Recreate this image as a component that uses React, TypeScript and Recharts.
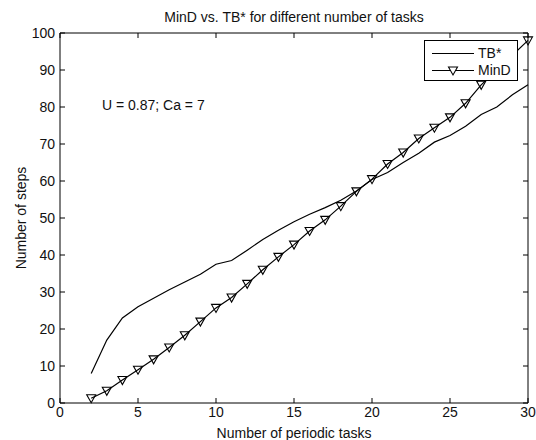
import React from 'react';
import { LineChart, Line, XAxis, YAxis, Legend, ReferenceDot } from 'recharts';

const tasks = [2, 3, 4, 5, 6, 7, 8, 9, 10, 11, 12, 13, 14, 15, 16, 17, 18, 19, 20, 21, 22, 23, 24, 25, 26, 27, 28, 29, 30];
const tbStar = [8, 17, 23, 26, 28.3, 30.6, 32.7, 34.8, 37.5, 38.5, 41.3, 44.2, 46.7, 49, 51, 52.8, 54.8, 57.3, 60.4, 62.3, 65, 67.5, 70.5, 72.3, 74.8, 78, 80, 83.3, 86];
const minD = [1.3, 3.3, 6.2, 9, 11.8, 15, 18.3, 22, 25.7, 28.5, 32.2, 36, 39.5, 42.8, 46.5, 49.5, 53.2, 57.2, 60.5, 64.6, 67.7, 71.5, 74.4, 77.2, 81, 86, 90, 94, 98];
const xTicks = [0, 5, 10, 15, 20, 25, 30];
const yTicks = [0, 10, 20, 30, 40, 50, 60, 70, 80, 90, 100];

const seriesNames = { tb: 'TB*', mind: 'MinD' };
const titleText = 'MinD vs. TB* for different number of tasks';
const xLabel = 'Number of periodic tasks';
const yLabel = 'Number of steps';
const noteText = 'U = 0.87; Ca = 7';

const data = tasks.map((t, i) => ({ x: t, tb: tbStar[i], mind: minD[i] }));

const FONT = '"Liberation Sans", Arial, Helvetica, sans-serif';
const TICK = 5;

const BottomTick = (p: any) => (
  <g>
    <line x1={p.x} y1={p.y} x2={p.x} y2={p.y - TICK} stroke="#000" strokeWidth={1} />
    <text x={p.x} y={p.y + 14} textAnchor="middle" fontSize={14} fontFamily={FONT} fill="#111">
      {p.payload.value}
    </text>
  </g>
);
const TopTick = (p: any) => (
  <line x1={p.x} y1={p.y} x2={p.x} y2={p.y + TICK} stroke="#000" strokeWidth={1} />
);
const LeftTick = (p: any) => (
  <g>
    <line x1={p.x} y1={p.y} x2={p.x + TICK} y2={p.y} stroke="#000" strokeWidth={1} />
    <text x={p.x - 5} y={p.y + 5} textAnchor="end" fontSize={14} fontFamily={FONT} fill="#111">
      {p.payload.value}
    </text>
  </g>
);
const RightTick = (p: any) => (
  <line x1={p.x} y1={p.y} x2={p.x - TICK} y2={p.y} stroke="#000" strokeWidth={1} />
);

const Tri = (p: any) => {
  const { cx, cy } = p;
  if (cx == null || cy == null) return null;
  return (
    <path
      key={p.key ?? `${cx}-${cy}`}
      d={`M${cx - 4.5},${cy - 3.5} L${cx + 4.5},${cy - 3.5} L${cx},${cy + 4.5} Z`}
      fill="none"
      stroke="#000"
      strokeWidth={1.1}
    />
  );
};

const LegendBox = () => (
  <div
    style={{
      width: 94,
      height: 41,
      border: '1px solid #000',
      background: '#fff',
      boxSizing: 'border-box',
    }}
  >
    <svg width={92} height={39} style={{ display: 'block' }}>
      <line x1={7} y1={12.5} x2={49} y2={12.5} stroke="#000" strokeWidth={1.2} />
      <text x={53} y={17} fontSize={14} fontFamily={FONT} fill="#111">{seriesNames.tb}</text>
      <line x1={7} y1={29.5} x2={49} y2={29.5} stroke="#000" strokeWidth={1.2} />
      <path d="M23.5,26 L32.5,26 L28,34 Z" fill="#fff" stroke="#000" strokeWidth={1.1} />
      <text x={53} y={34} fontSize={14} fontFamily={FONT} fill="#111">{seriesNames.mind}</text>
    </svg>
  </div>
);

export default function App() {
  return (
    <div style={{ position: 'absolute', left: 0, top: 0, width: 536, height: 440, background: '#fff' }}>
      <LineChart width={536} height={440} data={data} margin={{ top: 32, right: 7, bottom: 0, left: 0 }}>
        <XAxis
          dataKey="x"
          type="number"
          domain={[0, 30]}
          ticks={xTicks}
          height={37}
          tickSize={0}
          tickMargin={0}
          tickLine={false}
          axisLine={{ stroke: '#000', strokeWidth: 1 }}
          tick={<BottomTick />}
          interval={0}
          label={{ value: xLabel, position: 'insideBottom', offset: 2, fontSize: 14, fontFamily: FONT, fill: '#111' }}
        />
        <XAxis
          xAxisId="top"
          orientation="top"
          dataKey="x"
          type="number"
          domain={[0, 30]}
          ticks={xTicks}
          height={1}
          tickSize={0}
          tickMargin={0}
          tickLine={false}
          axisLine={{ stroke: '#000', strokeWidth: 1 }}
          tick={<TopTick />}
          interval={0}
          label={{ value: titleText, position: 'top', offset: 10, fontSize: 14, fontFamily: FONT, fill: '#111' }}
        />
        <YAxis
          type="number"
          domain={[0, 100]}
          ticks={yTicks}
          width={60}
          tickSize={0}
          tickMargin={0}
          tickLine={false}
          axisLine={{ stroke: '#000', strokeWidth: 1 }}
          tick={<LeftTick />}
          interval={0}
          label={{
            value: yLabel,
            angle: -90,
            position: 'insideLeft',
            offset: 21,
            fontSize: 14,
            fontFamily: FONT,
            fill: '#111',
            style: { textAnchor: 'middle' },
          }}
        />
        <YAxis
          yAxisId="right"
          orientation="right"
          type="number"
          domain={[0, 100]}
          ticks={yTicks}
          width={1}
          tickSize={0}
          tickMargin={0}
          tickLine={false}
          axisLine={{ stroke: '#000', strokeWidth: 1 }}
          tick={<RightTick />}
          interval={0}
        />
        <Line
          dataKey="tb"
          name={seriesNames.tb}
          xAxisId="top"
          stroke="#000"
          strokeWidth={1.2}
          dot={false}
          activeDot={false}
          isAnimationActive={false}
        />
        <Line
          dataKey="mind"
          name={seriesNames.mind}
          yAxisId="right"
          stroke="#000"
          strokeWidth={1.2}
          dot={<Tri />}
          activeDot={false}
          isAnimationActive={false}
        />
        <ReferenceDot
          x={2.69}
          y={80.5}
          r={0}
          fill="none"
          stroke="none"
          label={{ value: noteText, position: 'right', offset: 0, fontSize: 14, fontFamily: FONT, fill: '#111' }}
        />
        <Legend
          layout="vertical"
          align="center"
          verticalAlign="middle"
          content={<LegendBox />}
          wrapperStyle={{ position: 'absolute', left: 424, top: 40, width: 94, height: 41, margin: 0, padding: 0 }}
        />
      </LineChart>
    </div>
  );
}
